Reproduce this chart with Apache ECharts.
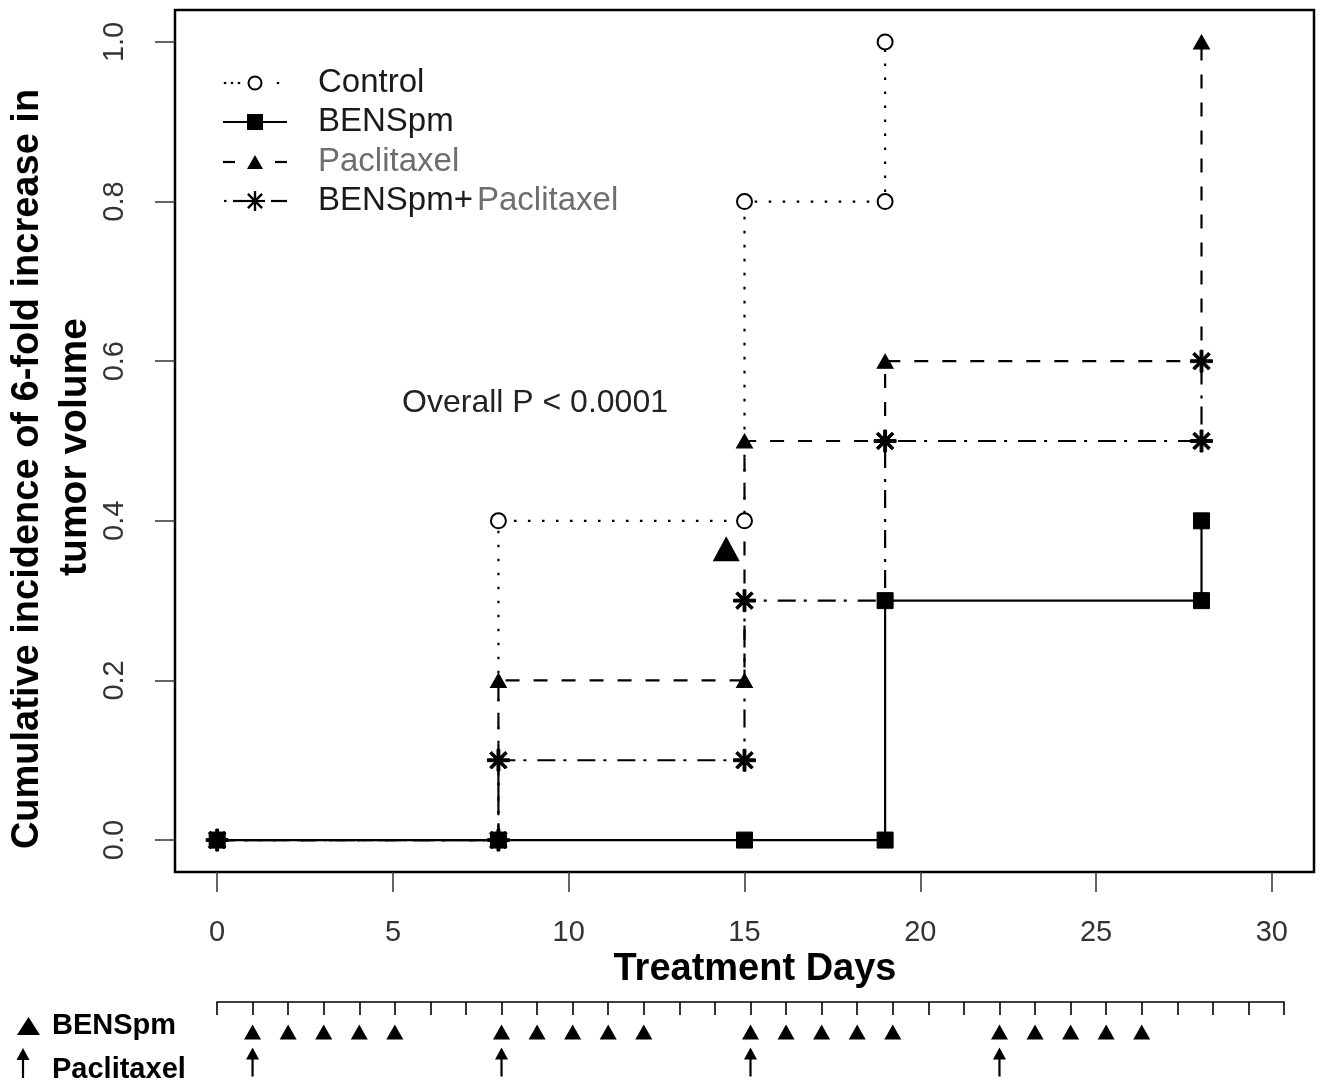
<!DOCTYPE html>
<html>
<head>
<meta charset="utf-8">
<script src="https://cdn.jsdelivr.net/npm/echarts@6/dist/echarts.min.js"></script>
<style>html,body{margin:0;padding:0;background:#fff}#c{width:1322px;height:1087px}</style>
</head>
<body>
<div id="c"></div>
<script>
// ---- data ----
var xTicks = [0, 5, 10, 15, 20, 25, 30];
var yTicks = [0, 0.2, 0.4, 0.6, 0.8, 1.0];

var controlDays = [0, 8, 8, 15, 15, 19, 19];
var controlInc  = [0, 0, 0.4, 0.4, 0.8, 0.8, 1.0];
var controlMark = [1, 1, 1, 1, 1, 1, 1];

var bensDays = [0, 8, 15, 19, 19, 28, 28];
var bensInc  = [0, 0, 0, 0, 0.3, 0.3, 0.4];
var bensMark = [1, 1, 1, 1, 1, 1, 1];

var pacDays = [0, 8, 8, 15, 15, 19, 19, 28, 28];
var pacInc  = [0, 0, 0.2, 0.2, 0.5, 0.5, 0.6, 0.6, 1.0];
var pacMark = [1, 1, 1, 1, 1, 0, 1, 0, 1];

var comboDays = [0, 8, 8, 15, 15, 19, 19, 28, 28];
var comboInc  = [0, 0, 0.1, 0.1, 0.3, 0.3, 0.5, 0.5, 0.6];
var comboMark = [1, 1, 1, 1, 1, 0, 1, 1, 1];

var annotTriangle = [[14.48, 0.365]];

var scheduleDays = [];
for (var d = 0; d <= 30; d++) scheduleDays.push(d);
var bensDoseDays = [1, 2, 3, 4, 5, 8, 9, 10, 11, 12, 15, 16, 17, 18, 19, 22, 23, 24, 25, 26];
var pacDoseDays = [1, 8, 15, 22];

var legendNames = ['Control', 'BENSpm', 'Paclitaxel', 'BENSpm+Paclitaxel'];
var pText = 'Overall P < 0.0001';
var xTitle = 'Treatment Days';
var yTitle1 = 'Cumulative incidence of 6-fold increase in';
var yTitle2 = 'tumor volume';

// ---- helpers ----
var FONT = 'Liberation Sans, Arial, sans-serif';
var starPath = 'path://M-1.3,-10L1.3,-10L1.3,10L-1.3,10Z' +
  'M-10,-1.3L10,-1.3L10,1.3L-10,1.3Z' +
  'M-6.15,-7.99L7.99,6.15L6.15,7.99L-7.99,-6.15Z' +
  'M7.99,-6.15L-6.15,7.99L-7.99,6.15L6.15,-7.99Z';
var arrowPath = 'path://M0,0L6.5,12L1.1,12L1.1,29L-1.1,29L-1.1,12L-6.5,12Z';

function pts(xs, ys, marks) {
  return xs.map(function (x, i) {
    var o = { value: [x, ys[i]] };
    if (!marks[i]) o.symbol = 'none';
    return o;
  });
}

function stepSeries(name, xs, ys, marks, symbol, size, lineType, extraItem) {
  return {
    name: name, type: 'line', xAxisIndex: 0, yAxisIndex: 0,
    data: pts(xs, ys, marks),
    symbol: symbol, symbolSize: size, showAllSymbol: true,
    lineStyle: { color: '#000', width: 2.2, type: lineType, cap: 'butt' },
    itemStyle: Object.assign({ color: '#000', borderColor: '#000', opacity: 1 }, extraItem || {}),
    emphasis: { disabled: true }, animation: false, clip: false
  };
}

// legend graphics
var LX0 = 223, LX1 = 287, LXC = 255, LT = 318;
var rows = [83, 122, 162, 201];
var g = [];
function seg(x1, y1, x2, y2, w) {
  g.push({ type: 'line', shape: { x1: x1, y1: y1, x2: x2, y2: y2 }, style: { stroke: '#000', lineWidth: w || 2.2 } });
}
// Control
[225, 232, 239, 278].forEach(function (x) { seg(x - 1.2, rows[0], x + 1.2, rows[0]); });
g.push({ type: 'circle', shape: { cx: LXC, cy: rows[0], r: 6.5 }, style: { fill: '#fff', stroke: '#000', lineWidth: 2 } });
// BENSpm
seg(LX0, rows[1], LX1, rows[1]);
g.push({ type: 'rect', shape: { x: LXC - 8, y: rows[1] - 8, width: 16, height: 16 }, style: { fill: '#000' } });
// Paclitaxel
seg(LX0, rows[2], 235, rows[2]);
seg(275, rows[2], LX1, rows[2]);
g.push({ type: 'polygon', shape: { points: [[LXC - 8, rows[2] + 7], [LXC + 8, rows[2] + 7], [LXC, rows[2] - 7]] }, style: { fill: '#000' } });
// combo
seg(224, rows[3], 226.5, rows[3]);
seg(233, rows[3], 265, rows[3]);
seg(271, rows[3], LX1, rows[3]);
seg(LXC, rows[3] - 10, LXC, rows[3] + 10, 2.4);
seg(LXC - 7.1, rows[3] - 7.1, LXC + 7.1, rows[3] + 7.1, 2.4);
seg(LXC - 7.1, rows[3] + 7.1, LXC + 7.1, rows[3] - 7.1, 2.4);
var legendColors = ['#1a1a1a', '#1a1a1a', '#6e6e6e'];
for (var i = 0; i < 3; i++) {
  g.push({ type: 'text', x: LT, y: rows[i], style: { text: legendNames[i], font: '33px ' + FONT, fill: legendColors[i], textAlign: 'left', textVerticalAlign: 'middle' } });
}
g.push({ type: 'text', x: LT, y: rows[3], style: {
  text: '{a|BENSpm+}{b|Paclitaxel}', textAlign: 'left', textVerticalAlign: 'middle',
  rich: { a: { font: '33px ' + FONT, fill: '#1a1a1a', padding: [0, 4, 0, 0] }, b: { font: '33px ' + FONT, fill: '#6e6e6e' } }
} });
// P value
g.push({ type: 'text', x: 535, y: 403, style: { text: pText, font: '32px ' + FONT, fill: '#222', textAlign: 'center', textVerticalAlign: 'middle' } });
// axis titles
g.push({ type: 'text', x: 755, y: 970, style: { text: xTitle, font: 'bold 38px ' + FONT, fill: '#000', textAlign: 'center', textVerticalAlign: 'middle' } });
g.push({ type: 'text', x: 28, y: 469, rotation: Math.PI / 2, style: { text: yTitle1, font: 'bold 38px ' + FONT, fill: '#000', textAlign: 'center', textVerticalAlign: 'middle' } });
g.push({ type: 'text', x: 75, y: 447, rotation: Math.PI / 2, style: { text: yTitle2, font: 'bold 39px ' + FONT, fill: '#000', textAlign: 'center', textVerticalAlign: 'middle' } });
// schedule row labels
g.push({ type: 'polygon', shape: { points: [[17, 1035], [40, 1035], [28.5, 1017]] }, style: { fill: '#000' } });
g.push({ type: 'text', x: 52, y: 1026, style: { text: 'BENSpm', font: 'bold 29px ' + FONT, fill: '#000', textAlign: 'left', textVerticalAlign: 'middle' } });
g.push({ type: 'polygon', shape: { points: [[23, 1048], [29.5, 1060], [16.5, 1060]] }, style: { fill: '#000' } });
seg(23, 1058, 23, 1078, 2.2);
g.push({ type: 'text', x: 52, y: 1070, style: { text: 'Paclitaxel', font: 'bold 29px ' + FONT, fill: '#000', textAlign: 'left', textVerticalAlign: 'middle' } });

var chart = echarts.init(document.getElementById('c'), null, { renderer: 'canvas' });
chart.setOption({
  animation: false,
  backgroundColor: '#fff',
  textStyle: { fontFamily: FONT },
  grid: [
    { left: 175, right: 8, top: 10, bottom: 215, show: true, borderColor: '#000', borderWidth: 2.5, backgroundColor: 'transparent' },
    { left: 217, right: 38, top: 1017, height: 60 }
  ],
  xAxis: [
    { type: 'value', gridIndex: 0, min: -1.2, max: 31.2,
      axisLine: { show: false, onZero: false },
      splitLine: { show: false },
      axisTick: { show: true, length: 20, lineStyle: { color: '#333', width: 1.5 }, customValues: xTicks },
      axisLabel: { customValues: xTicks, margin: 46, fontSize: 29, color: '#333', fontFamily: FONT } },
    { type: 'value', gridIndex: 1, min: 0, max: 30, position: 'top', offset: 15,
      axisLine: { show: true, onZero: false, lineStyle: { color: '#000', width: 1.6 } },
      axisTick: { show: true, inside: true, length: 13, lineStyle: { color: '#000', width: 1.6 }, customValues: scheduleDays },
      axisLabel: { show: false }, splitLine: { show: false } }
  ],
  yAxis: [
    { type: 'value', gridIndex: 0, min: -0.04, max: 1.04,
      axisLine: { show: false, onZero: false },
      splitLine: { show: false },
      axisTick: { show: true, length: 20, lineStyle: { color: '#333', width: 1.5 }, customValues: yTicks },
      axisLabel: { customValues: yTicks, rotate: 90, margin: 46, fontSize: 29, color: '#333', fontFamily: FONT,
        formatter: function (v) { return v.toFixed(1); } } },
    { type: 'category', gridIndex: 1, data: ['BENSpm', 'Paclitaxel'], inverse: true, show: false }
  ],
  series: [
    stepSeries(legendNames[0], controlDays, controlInc, controlMark, 'emptyCircle', 15, [2.6, 11.4], { borderWidth: 2 }),
    stepSeries(legendNames[2], pacDays, pacInc, pacMark, 'triangle', [16, 14], [14, 14]),
    stepSeries(legendNames[3], comboDays, comboInc, comboMark, starPath, 22, [18, 8, 3, 11]),
    stepSeries(legendNames[1], bensDays, bensInc, bensMark, 'rect', 16, 'solid'),
    { type: 'scatter', xAxisIndex: 0, yAxisIndex: 0, data: annotTriangle, symbol: 'triangle', symbolSize: [27, 25],
      itemStyle: { color: '#000', opacity: 1 }, emphasis: { disabled: true }, silent: true },
    { type: 'scatter', xAxisIndex: 1, yAxisIndex: 1, data: bensDoseDays.map(function (d) { return [d, 0]; }),
      symbol: 'triangle', symbolSize: [17, 15], itemStyle: { color: '#000', opacity: 1 }, emphasis: { disabled: true }, silent: true },
    { type: 'scatter', xAxisIndex: 1, yAxisIndex: 1, data: pacDoseDays.map(function (d) { return [d, 1]; }),
      symbol: arrowPath, symbolSize: [13, 29], itemStyle: { color: '#000', opacity: 1 }, emphasis: { disabled: true }, silent: true }
  ],
  graphic: g
});
</script>
</body>
</html>
